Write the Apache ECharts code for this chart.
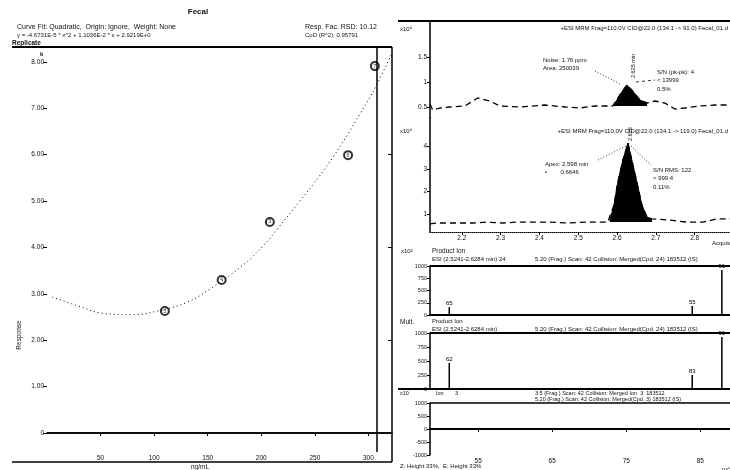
<!DOCTYPE html>
<html><head><meta charset="utf-8">
<script src="https://cdn.jsdelivr.net/npm/echarts@6/dist/echarts.min.js"></script>
<style>html,body{margin:0;padding:0;background:#fff}#c{width:730px;height:470px}</style>
</head><body><div id="c"></div>
<script>
// ---- Calibration curve (left panel) ----
const curveX = [5, 29, 52, 80, 105, 131, 152, 183, 202, 215, 236, 255, 267, 281, 292, 301, 308, 322];
const curveY = [2.93, 2.74, 2.58, 2.55, 2.64, 2.82, 3.10, 3.62, 4.04, 4.40, 5.00, 5.56, 5.95, 6.45, 6.88, 7.22, 7.52, 8.19];
const calPtX = [110, 163, 208, 281, 306];
const calPtY = [2.63, 3.30, 4.55, 5.99, 7.91];
const calPtLbl = ['5', '4', '3', '6', '7'];
const calXTicks = [50, 100, 150, 200, 250, 300];
const calYTicks = [0, 1, 2, 3, 4, 5, 6, 7, 8];

// ---- Chromatogram 1 ----
const chr1T = [2.118, 2.125, 2.143, 2.169, 2.208, 2.241, 2.272, 2.298, 2.349, 2.414, 2.466, 2.504, 2.543, 2.581, 2.589, 2.607, 2.625, 2.638, 2.659, 2.677, 2.697, 2.723, 2.749, 2.775, 2.813, 2.852, 2.891];
const chr1V = [0.56, 0.44, 0.48, 0.50, 0.52, 0.68, 0.62, 0.52, 0.50, 0.54, 0.50, 0.48, 0.52, 0.52, 0.52, 0.74, 0.94, 0.84, 0.64, 0.58, 0.62, 0.58, 0.46, 0.48, 0.52, 0.54, 0.54];
const chr1PeakT = [2.589, 2.598, 2.607, 2.625, 2.638, 2.659, 2.677];
const chr1PeakV = [0.52, 0.62, 0.74, 0.94, 0.84, 0.64, 0.58];
const chr1YTicks = [0.5, 1, 1.5];

// ---- Chromatogram 2 ----
const chr2T = [2.118, 2.136, 2.187, 2.228, 2.264, 2.306, 2.342, 2.375, 2.427, 2.471, 2.522, 2.576, 2.581, 2.592, 2.602, 2.615, 2.628, 2.638, 2.651, 2.664, 2.677, 2.690, 2.736, 2.780, 2.821, 2.857, 2.891];
const chr2V = [0.56, 0.60, 0.60, 0.60, 0.64, 0.60, 0.64, 0.64, 0.64, 0.60, 0.64, 0.64, 0.69, 1.40, 2.42, 3.40, 4.16, 3.40, 2.42, 1.40, 0.87, 0.78, 0.73, 0.64, 0.64, 0.78, 0.78];
const chr2PeakT = [2.581, 2.592, 2.602, 2.615, 2.628, 2.638, 2.651, 2.664, 2.677, 2.690];
const chr2PeakV = [0.69, 1.40, 2.42, 3.40, 4.16, 3.40, 2.42, 1.40, 0.87, 0.78];
const chr2YTicks = [1, 2, 3, 4];
const timeTicks = [2.2, 2.3, 2.4, 2.5, 2.6, 2.7, 2.8];

// ---- Spectra ----
const spec1Mz = [51.1, 83.9, 87.9];
const spec1Int = [160, 184, 920];
const spec1Lbl = ['65', '55', '91'];
const spec2Mz = [51.1, 83.9, 87.9];
const spec2Int = [464, 250, 928];
const spec2Lbl = ['62', '83', '91'];
const mzTicks = [55, 65, 75, 85];

const F = 'Liberation Sans';
const chart = echarts.init(document.getElementById('c'), null, {renderer: 'canvas'});

function txt(x, y, s, o) {
  o = o || {};
  return {type: 'text', x: x, y: y, rotation: o.rot || 0, silent: true, z: 10,
    style: {text: s, fill: o.c || '#111', fontSize: o.fs || 6.5, fontFamily: F,
      fontWeight: o.b ? 'bold' : 'normal', align: o.al || 'left', verticalAlign: 'middle'}};
}
function ln(x1, y1, x2, y2, w, dash) {
  return {type: 'line', silent: true, z: 5, shape: {x1: x1, y1: y1, x2: x2, y2: y2},
    style: {stroke: '#000', lineWidth: w || 1, lineDash: dash || null}};
}

const lblStyle = {fontSize: 6.5, fontFamily: F, color: '#111'};
const blk = {lineStyle: {color: '#000', width: 1.5}};
const plain = v => String(v);

const option = {
  animation: false,
  backgroundColor: '#fff',
  grid: [
    {left: 47, top: 48, width: 345, height: 385},
    {left: 430, top: 21, width: 300, height: 97},
    {left: 430, top: 118, width: 300, height: 114},
    {left: 430, top: 266, width: 300, height: 49},
    {left: 430, top: 333, width: 300, height: 56},
    {left: 430, top: 403, width: 300, height: 52}
  ],
  xAxis: [
    {gridIndex: 0, type: 'value', min: 0, max: 322, offset: 19,
      axisLine: blk, splitLine: {show: false},
      axisTick: {length: 3, customValues: calXTicks, lineStyle: {color: '#000'}},
      axisLabel: Object.assign({margin: 3, customValues: calXTicks}, lblStyle)},
    {gridIndex: 1, type: 'value', min: 2.118, max: 2.891, show: false},
    {gridIndex: 2, type: 'value', min: 2.118, max: 2.891,
      axisLine: {lineStyle: {color: '#000', width: 1, type: 'dotted'}}, splitLine: {show: false},
      axisTick: {length: 3, customValues: timeTicks, lineStyle: {color: '#000'}},
      axisLabel: Object.assign({margin: 3, customValues: timeTicks, formatter: v => v.toFixed(1)}, lblStyle)},
    {gridIndex: 3, type: 'value', min: 48.5, max: 89, axisLine: {lineStyle: {color: '#000', width: 2}},
      axisTick: {show: false}, axisLabel: {show: false}, splitLine: {show: false}},
    {gridIndex: 4, type: 'value', min: 48.5, max: 89, axisLine: {lineStyle: {color: '#000', width: 2}},
      axisTick: {show: false}, axisLabel: {show: false}, splitLine: {show: false}},
    {gridIndex: 5, type: 'value', min: 48.5, max: 89, axisLine: {lineStyle: {color: '#000', width: 2}},
      splitLine: {show: false},
      axisTick: {length: 3, customValues: mzTicks, lineStyle: {color: '#000'}},
      axisLabel: Object.assign({margin: 3, customValues: mzTicks}, lblStyle)}
  ],
  yAxis: [
    {gridIndex: 0, type: 'value', min: 0, max: 8.3, axisLine: {show: false}, splitLine: {show: false},
      axisTick: {show: true, length: 4, customValues: calYTicks, lineStyle: {color: '#000'}},
      axisLabel: Object.assign({margin: 3, customValues: calYTicks, formatter: v => v === 0 ? '0' : v.toFixed(2)}, lblStyle)},
    {gridIndex: 0, type: 'value', position: 'right', min: 0, max: 8.3, axisLine: {show: false},
      splitLine: {show: false}, axisLabel: {show: false},
      axisTick: {show: true, inside: true, length: 4, customValues: [2, 4, 6], lineStyle: {color: '#000'}}},
    {gridIndex: 1, type: 'value', min: 0.28, max: 2.22, axisLine: blk, splitLine: {show: false},
      axisTick: {length: 3, customValues: chr1YTicks, lineStyle: {color: '#000'}},
      axisLabel: Object.assign({margin: 3, customValues: chr1YTicks}, lblStyle)},
    {gridIndex: 2, type: 'value', min: 0.2, max: 5.27, axisLine: blk, splitLine: {show: false},
      axisTick: {length: 3, customValues: chr2YTicks, lineStyle: {color: '#000'}},
      axisLabel: Object.assign({margin: 3, customValues: chr2YTicks}, lblStyle)},
    {gridIndex: 3, type: 'value', min: 0, max: 1000, interval: 250, axisLine: blk, splitLine: {show: false},
      axisTick: {length: 3, lineStyle: {color: '#000'}},
      axisLabel: Object.assign({margin: 3, formatter: plain}, lblStyle, {fontSize: 5.5})},
    {gridIndex: 4, type: 'value', min: 0, max: 1000, interval: 250, axisLine: blk, splitLine: {show: false},
      axisTick: {length: 3, lineStyle: {color: '#000'}},
      axisLabel: Object.assign({margin: 3, formatter: plain}, lblStyle, {fontSize: 5.5})},
    {gridIndex: 5, type: 'value', min: -1000, max: 1000, interval: 500, axisLine: blk, splitLine: {show: false},
      axisTick: {length: 3, lineStyle: {color: '#000'}},
      axisLabel: Object.assign({margin: 3, formatter: plain}, lblStyle, {fontSize: 5.5})}
  ],
  series: [
    {type: 'line', xAxisIndex: 0, yAxisIndex: 0, smooth: 0.4, symbol: 'none',
      data: curveX.map((x, i) => [x, curveY[i]]),
      lineStyle: {color: '#000', width: 1, type: [1, 3]},
      markLine: {silent: true, symbol: 'none', label: {show: false},
        lineStyle: {color: '#000', width: 1.5, type: 'solid'},
        data: [{yAxis: 0}, {xAxis: 308}]}},
    {type: 'scatter', xAxisIndex: 0, yAxisIndex: 0, symbol: 'emptyCircle', symbolSize: 8,
      itemStyle: {color: '#000', borderColor: '#222', borderWidth: 0.8},
      label: {show: true, position: 'inside', fontSize: 5.5, fontFamily: F, color: '#000',
        formatter: p => calPtLbl[p.dataIndex]},
      data: calPtX.map((x, i) => [x, calPtY[i]])},
    {type: 'line', xAxisIndex: 1, yAxisIndex: 2, symbol: 'none',
      data: chr1T.map((t, i) => [t, chr1V[i]]),
      lineStyle: {color: '#000', width: 1.3, type: [6, 4]}},
    {type: 'line', xAxisIndex: 1, yAxisIndex: 2, symbol: 'none',
      data: chr1PeakT.map((t, i) => [t, chr1PeakV[i]]),
      lineStyle: {color: '#000', width: 1}, areaStyle: {color: '#000', opacity: 1, origin: 0.52}},
    {type: 'line', xAxisIndex: 2, yAxisIndex: 3, symbol: 'none',
      data: chr2T.map((t, i) => [t, chr2V[i]]),
      lineStyle: {color: '#000', width: 1.3, type: [6, 4]}},
    {type: 'line', xAxisIndex: 2, yAxisIndex: 3, symbol: 'none',
      data: chr2PeakT.map((t, i) => [t, chr2PeakV[i]]),
      lineStyle: {color: '#000', width: 1}, areaStyle: {color: '#000', opacity: 1, origin: 0.64}},
    {type: 'bar', xAxisIndex: 3, yAxisIndex: 4, barWidth: 1.5, itemStyle: {color: '#000'},
      label: {show: true, position: 'top', distance: 1, fontSize: 6, fontFamily: F, color: '#000',
        formatter: p => spec1Lbl[p.dataIndex]},
      data: spec1Mz.map((m, i) => [m, spec1Int[i]])},
    {type: 'bar', xAxisIndex: 4, yAxisIndex: 5, barWidth: 1.5, itemStyle: {color: '#000'},
      label: {show: true, position: 'top', distance: 1, fontSize: 6, fontFamily: F, color: '#000',
        formatter: p => spec2Lbl[p.dataIndex]},
      data: spec2Mz.map((m, i) => [m, spec2Int[i]])}
  ],
  graphic: [
    // left panel frame & text
    ln(12, 47, 392, 47, 2),
    ln(12, 462, 392, 462, 1.5),
    ln(392, 47, 392, 462, 1.5),
    ln(377, 433, 377, 452, 1.5),
    txt(198, 12, 'Fecal', {b: true, fs: 8, al: 'center'}),
    txt(17, 27, 'Curve Fit: Quadratic,  Origin: Ignore,  Weight: None', {fs: 7}),
    txt(17, 35, 'y = -4.6731E-5 * x^2 + 1.1036E-2 * x + 2.9219E+0', {fs: 6}),
    txt(305, 27, 'Resp. Fac. RSD: 10.12', {fs: 7}),
    txt(305, 35, 'CoD (R^2): 0.95791', {fs: 6}),
    txt(12, 43, 'Replicate', {b: true, fs: 6.5}),
    txt(40, 54, 'k', {b: true, fs: 6}),
    txt(19, 335, 'Response', {rot: Math.PI / 2, fs: 6.5, al: 'center'}),
    txt(200, 467, 'ng/mL', {fs: 6.5, al: 'center'}),
    // right panel frame
    ln(398, 21, 730, 21, 2),
    ln(430, 266, 730, 266, 2),
    ln(430, 333, 730, 333, 2),
    ln(398, 389, 730, 389, 2),
    ln(430, 403, 730, 403, 1.5),
    // chromatogram 1 text
    txt(400, 29, 'x10\u2075', {fs: 6}),
    txt(728, 28, '+ESI MRM Frag=110.0V CID@22.0 (134.1 -> 91.0) Fecal_01.d', {fs: 6, al: 'right'}),
    txt(543, 60, 'Noise: 1.76 ppm', {fs: 6}),
    txt(543, 68, 'Area: 250039', {fs: 6}),
    txt(657, 72, 'S/N (pk-pk): 4', {fs: 6}),
    txt(657, 80, '< 13999', {fs: 6}),
    txt(657, 89, '0.5%', {fs: 6}),
    txt(633, 66, '2.625 min', {rot: Math.PI / 2, fs: 5.5, al: 'center'}),
    ln(595, 71, 620, 84, 0.8, [1, 2]),
    ln(636, 82, 655, 80, 0.8, [3, 3]),
    // chromatogram 2 text
    txt(400, 131, 'x10\u2075', {fs: 6}),
    txt(728, 131, '+ESI MRM Frag=110.0V CID@22.0 (134.1 -> 119.0) Fecal_01.d', {fs: 6, al: 'right'}),
    txt(630, 134, '2.628', {rot: Math.PI / 2, fs: 5.5, al: 'center'}),
    txt(545, 164, 'Apex: 2.598 min', {fs: 6}),
    txt(545, 172, '\u2022        0.6646', {fs: 6}),
    txt(653, 170, 'S/N RMS: 122', {fs: 6}),
    txt(653, 178, '> 999.4', {fs: 6}),
    txt(653, 187, '0.11%', {fs: 6}),
    ln(598, 160, 626, 146, 0.8, [1, 2]),
    ln(631, 146, 651, 165, 0.8, [1, 2]),
    txt(712, 243, 'Acquisition Time (min)', {fs: 6}),
    // spectrum 1 text
    txt(401, 251, 'x10\u00b2', {fs: 6}),
    txt(432, 251, 'Product Ion', {fs: 6.5}),
    txt(432, 259, 'ESI (2.5241-2.6284 min) 24', {fs: 6}),
    txt(535, 259, '5.20 (Frag.) Scan: 42 Collision: Merged(Cpd. 24) 183512 (IS)', {fs: 6}),
    // spectrum 2 text
    txt(400, 322, 'Mult.', {fs: 6.5}),
    txt(432, 321, 'Product Ion', {fs: 6}),
    txt(432, 329, 'ESI (2.5241-2.6284 min)', {fs: 6}),
    txt(535, 329, '5.20 (Frag.) Scan: 42 Collision: Merged(Cpd. 24) 183512 (IS)', {fs: 6}),
    // spectrum 3 text
    txt(400, 393, 'x10', {fs: 5.5}),
    txt(436, 393, 'Ion', {fs: 5.5}),
    txt(455, 393, '3', {fs: 5.5}),
    txt(535, 393, '3.5 (Frag.) Scan: 42 Collision: Merged Ion  3  183512', {fs: 5.5}),
    txt(535, 399, '5.20 (Frag.) Scan: 42 Collision: Merged(Cpd. 3) 183512 (IS)', {fs: 5.5}),
    txt(400, 466, 'Z: Height 33%,  E: Height 33%', {fs: 6}),
    txt(722, 469, 'm/z', {fs: 6})
  ]
};
chart.setOption(option);
</script>
</body></html>
